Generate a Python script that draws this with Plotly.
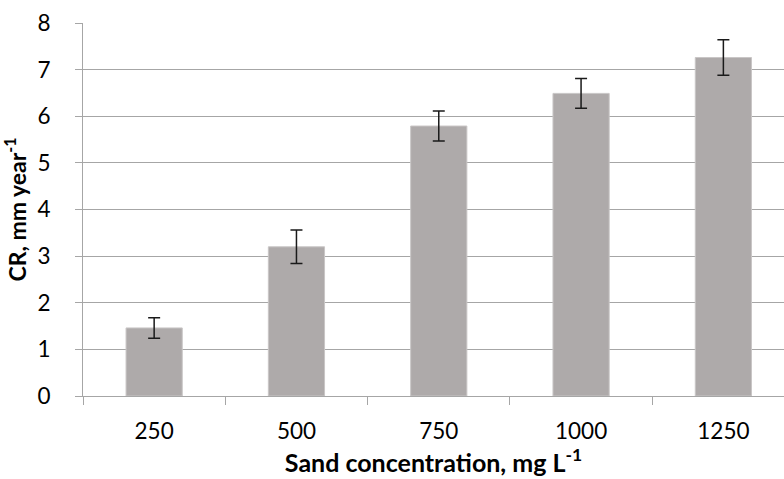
import plotly.graph_objects as go

# Sand concentration (mg/L) vs corrosion rate (mm/year) with standard error
categories = ["250", "500", "750", "1000", "1250"]
cr_values = [1.46, 3.20, 5.79, 6.49, 7.26]
cr_errors = [0.22, 0.36, 0.32, 0.32, 0.38]

FONT = "Lato"
BAR_COLOR = "#AEAAAA"
GRID_COLOR = "#A6A6A6"

fig = go.Figure(
    go.Bar(
        x=categories,
        y=cr_values,
        width=0.395,
        marker=dict(color=BAR_COLOR, line=dict(color="#C9C6C6", width=1)),
        error_y=dict(
            type="data",
            array=cr_errors,
            visible=True,
            color="#1a1a1a",
            thickness=1.5,
            width=6,
        ),
    )
)

fig.update_layout(
    width=784,
    height=479,
    margin=dict(l=83, r=0, t=23, b=83),
    paper_bgcolor="white",
    plot_bgcolor="white",
    showlegend=False,
    font=dict(family=FONT, color="black"),
    xaxis=dict(
        type="category",
        range=[-0.5, 4.426],
        tickson="boundaries",
        ticks="outside",
        ticklen=8,
        tickcolor=GRID_COLOR,
        showline=True,
        linecolor=GRID_COLOR,
        linewidth=1,
        showgrid=False,
        tickfont=dict(size=22.5, family=FONT),
        ticklabelstandoff=15,
        title=dict(
            text="<b>Sand concentration, mg L<sup>-1</sup></b>",
            font=dict(size=25, family=FONT),
            standoff=9,
        ),
    ),
    yaxis=dict(
        range=[0, 8],
        dtick=1,
        ticks="outside",
        ticklen=7,
        tickcolor=GRID_COLOR,
        showline=True,
        linecolor=GRID_COLOR,
        linewidth=1,
        showgrid=True,
        gridcolor=GRID_COLOR,
        gridwidth=1,
        zeroline=False,
        tickfont=dict(size=22.5, family=FONT),
        ticklabelstandoff=20,
        title=dict(
            text="<b>CR, mm year<sup>-1</sup></b>",
            font=dict(size=23, family=FONT),
            standoff=4,
        ),
    ),
)

fig.write_html("out.html")
